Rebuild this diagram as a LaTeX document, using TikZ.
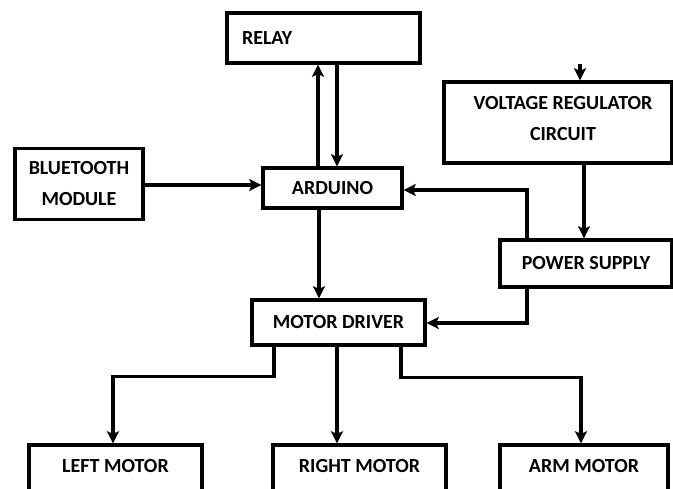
\documentclass[tikz,border=0pt]{standalone}
\usepackage{fontspec}
\setmainfont{Carlito}
\usetikzlibrary{arrows.meta}
\begin{document}
\begin{tikzpicture}[x=1pt,y=-1pt,
  boxfont/.style={font=\fontsize{20}{31}\selectfont\bfseries, align=center},
  box/.style={draw, line width=3.4pt, inner sep=0pt, boxfont},
  conn/.style={line width=3.2pt, -{Stealth[length=12pt,width=12pt,inset=2.5pt]}}]
\useasboundingbox (0,0) rectangle (673,488);
\clip (0,0) rectangle (673,488);
% boxes
\node[box, text width=163pt, inner xsep=15pt, minimum height=50pt, align=left] (relay) at (323.5,38) {RELAY};
\node[box, minimum width=139pt, minimum height=40pt] (arduino) at (332.5,188) {ARDUINO};
\node[box, minimum width=128pt, minimum height=71pt] (bt) at (79,184) {BLUETOOTH\\MODULE};
\node[box, minimum width=228pt, minimum height=81pt,
      label={[boxfont, xshift=5pt, yshift=4pt]center:{VOLTAGE REGULATOR\\CIRCUIT}}] (vr) at (558,122.5) {};
\node[box, minimum width=172pt, minimum height=47pt] (ps) at (586,263.5) {POWER SUPPLY};
\node[box, minimum width=173pt, minimum height=45pt] (md) at (338.5,322.5) {MOTOR DRIVER};
\node[box, minimum width=173pt, minimum height=52pt,
      label={[boxfont, yshift=5pt]center:LEFT MOTOR}] (lm) at (115.5,471) {};
\node[box, minimum width=173pt, minimum height=52pt,
      label={[boxfont, yshift=5pt]center:RIGHT MOTOR}] (rm) at (359.5,471) {};
\node[box, minimum width=168pt, minimum height=52pt,
      label={[boxfont, yshift=5pt]center:ARM MOTOR}] (am) at (584,471) {};
\coordinate (vrin) at (580,64);
% connectors
\draw[conn] ([xshift=-14.5pt]arduino.north) -- ([xshift=-14.5pt]arduino.north |- relay.south);
\draw[conn] ([xshift=4.5pt]arduino.north |- relay.south) -- ([xshift=4.5pt]arduino.north);
\draw[conn] ([yshift=3pt]arduino.west -| bt.east) -- ([yshift=3pt]arduino.west);
\draw[conn] ([xshift=-13.5pt]arduino.south) -- ([xshift=-13.5pt]arduino.south |- md.north);
\draw[conn] (vrin) -- (vrin |- vr.north);
\draw[conn] ([xshift=-2pt]ps.north |- vr.south) -- ([xshift=-2pt]ps.north);
\draw[conn] ([xshift=-59pt]ps.north) |- ([yshift=-2pt]arduino.east);
\draw[conn] ([xshift=-59pt]ps.south) |- ([yshift=-0.5pt]md.east);
\draw[conn] ([xshift=-64.5pt]md.south) -- ++(0,30) -| ([xshift=-2.5pt]lm.north);
\draw[conn] ([xshift=-1.5pt]md.south) -- ([xshift=-1.5pt]md.south |- rm.north);
\draw[conn] ([xshift=62.5pt]md.south) -- ++(0,31) -| ([xshift=-3pt]am.north);
\end{tikzpicture}
\end{document}
